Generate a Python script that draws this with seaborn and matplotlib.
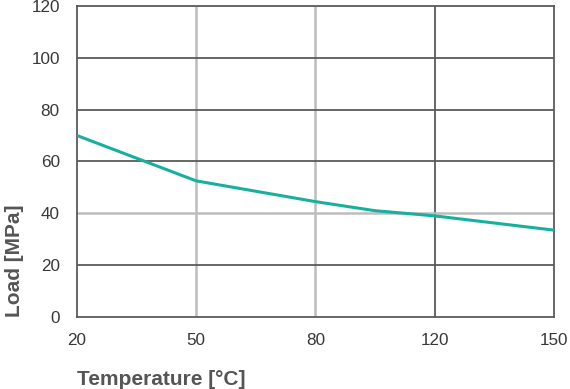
import numpy as np
import pandas as pd
import seaborn as sns
import matplotlib.pyplot as plt

# values
temps = [20, 50, 80, 100, 120, 150]
load = [70, 52.5, 44.5, 41, 39, 33.5]

# the x axis is evenly spaced between the labelled temperatures
tick_temps = [20, 50, 80, 120, 150]
y_ticks = [0, 20, 40, 60, 80, 100, 120]

df = pd.DataFrame({'pos': np.interp(temps, tick_temps, range(len(tick_temps))),
                   'load': load})

sns.set_style('white')
plt.rcParams['font.family'] = ['Liberation Sans', 'DejaVu Sans']

fig = plt.figure(figsize=(5.7, 3.89), dpi=100)
ax = fig.add_axes([0.135, 0.185, 0.837, 0.8])

dark = '#5a5a5a'
light = '#bdbdbd'

# grid lines, some drawn darker than others like in the original
for i, t in enumerate(tick_temps[1:-1], start=1):
    ax.axvline(i, color=light if t < 100 else dark, lw=1.8 if t < 100 else 1.3, zorder=1)
for v in y_ticks[1:-1]:
    ax.axhline(v, color=light if v == 40 else dark, lw=1.8 if v == 40 else 1.3, zorder=1)

sns.lineplot(data=df, x='pos', y='load', color='#17b09e', lw=2.2, ax=ax, zorder=3)

ax.set_xlim(0, len(tick_temps) - 1)
ax.set_ylim(0, 120)
ax.set_xticks(range(len(tick_temps)))
ax.set_xticklabels([str(t) for t in tick_temps])
ax.set_yticks(y_ticks)

for s in ax.spines.values():
    s.set_color(dark)
    s.set_linewidth(1.3)

ax.tick_params(axis='both', colors=light, labelcolor='#383838', labelsize=12.3,
               length=4.3, width=1.2)
ax.tick_params(axis='x', pad=7)
ax.tick_params(axis='y', pad=8)

ax.set_xlabel('Temperature [°C]', fontsize=15, color='#555555', fontweight='bold',
              loc='left', labelpad=16)
ax.set_ylabel('Load [MPa]', fontsize=15, color='#555555', fontweight='bold',
              loc='bottom')
ax.yaxis.set_label_coords(-0.11, 0)

fig.savefig('out.png', dpi=100)
